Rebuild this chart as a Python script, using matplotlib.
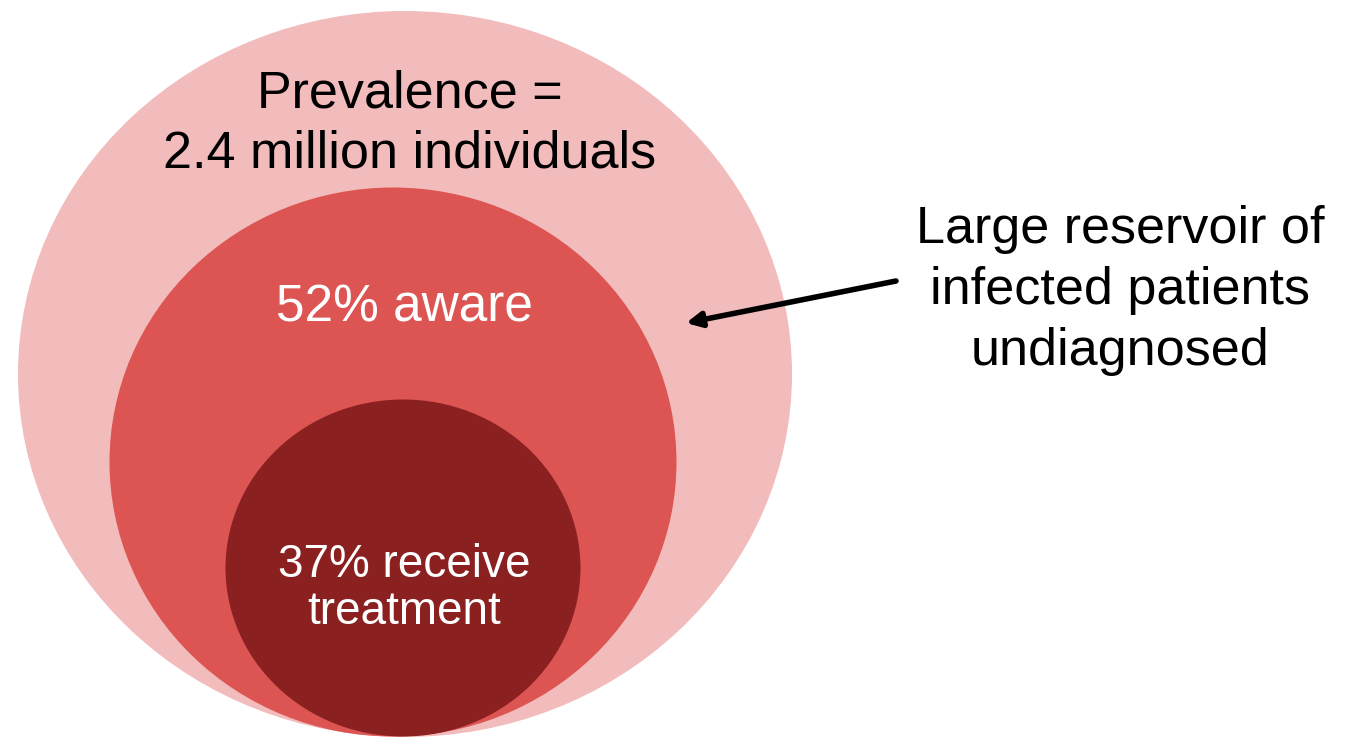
import matplotlib.pyplot as plt
from matplotlib.patches import Ellipse

# nested groups, outer to inner
group_names = ["prevalence", "aware", "treated"]
group_colors = ["#F2BBBC", "#DC5553", "#8B2020"]
# ellipse geometry in picture pixels: centre x, centre y, width, height
centres = [(405, 374), (393, 462), (403, 568)]
widths = [774, 567, 355]
heights = [726, 549, 337]

outer_lines = ["Prevalence =", "2.4 million individuals"]
aware_lines = ["52% aware"]
treat_lines = ["37% receive", "treatment"]
note_lines = ["Large reservoir of", "infected patients", "undiagnosed"]

plt.rcParams['font.family'] = ['Liberation Sans', 'DejaVu Sans']

fig = plt.figure(figsize=(13.49, 7.39), dpi=100)
ax = fig.add_axes([0, 0, 1, 1])
ax.set_xlim(0, 1349)
ax.set_ylim(739, 0)
ax.axis('off')

for c, w, h, col in zip(centres, widths, heights, group_colors):
    ax.add_patch(Ellipse(c, w, h, facecolor=col, edgecolor='none'))

for i, s in enumerate(outer_lines):
    ax.text(410, 107 + i * 61, s, ha='center', va='baseline', fontsize=37.5, color='black')

for i, s in enumerate(aware_lines):
    ax.text(404, 322 + i * 60, s, ha='center', va='baseline', fontsize=37, color='white')

for i, s in enumerate(treat_lines):
    ax.text(404, 577 + i * 47, s, ha='center', va='baseline', fontsize=33, color='white')

for i, s in enumerate(note_lines):
    ax.text(1120, 243 + i * 61, s, ha='center', va='baseline', fontsize=37.5, color='black')

ax.annotate("", xy=(686, 323), xytext=(896, 281),
            arrowprops=dict(arrowstyle='-|>', color='black', lw=4,
                            mutation_scale=22, shrinkA=0, shrinkB=0))

fig.savefig("out.png", dpi=100)
